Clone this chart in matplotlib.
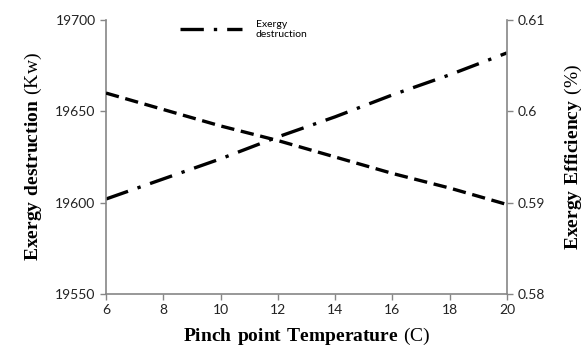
import matplotlib
matplotlib.use("Agg")
import matplotlib.pyplot as plt

# data
pinch_temp = [6, 8, 10, 12, 14, 16, 18, 20]
exergy_destruction = [19602, 19613, 19624, 19636, 19647, 19659, 19670, 19682]
exergy_efficiency = [0.6020, 0.6002, 0.5984, 0.5968, 0.5950, 0.5932, 0.5916, 0.5898]

x_ticks = [6, 8, 10, 12, 14, 16, 18, 20]
left_ticks = [19550, 19600, 19650, 19700]
right_ticks = [0.58, 0.59, 0.6, 0.61]
right_labels = ["0.58", "0.59", "0.6", "0.61"]

plt.rcParams['font.family'] = ['Lato', 'DejaVu Sans']
plt.rcParams['mathtext.fontset'] = 'custom'
plt.rcParams['mathtext.rm'] = 'Liberation Serif'
plt.rcParams['mathtext.bf'] = 'Liberation Serif:bold'

grey = '#868686'

fig = plt.figure(figsize=(5.87, 3.54), dpi=100)
ax = fig.add_axes([0.1806, 0.1695, 0.6831, 0.774])
ax2 = ax.twinx()

ax.plot(pinch_temp, exergy_destruction, color='black', lw=2.4,
        dashes=[7, 3, 1, 3], label='Exergy\ndestruction')
ax2.plot(pinch_temp, exergy_efficiency, color='black', lw=2.4,
         dashes=[4, 2])

ax.set_xlim(6, 20)
ax.set_ylim(19550, 19700)
ax2.set_ylim(0.58, 0.61)
ax.set_xticks(x_ticks)
ax.set_yticks(left_ticks)
ax2.set_yticks(right_ticks)
ax2.set_yticklabels(right_labels)

for a in (ax, ax2):
    a.spines['top'].set_visible(False)
    for s in ('left', 'right', 'bottom'):
        a.spines[s].set_color(grey)
        a.spines[s].set_linewidth(1.2)
    a.tick_params(colors=grey, labelcolor='#222222', labelsize=10,
                  length=4, width=1)
ax.spines['right'].set_visible(False)
ax2.spines['left'].set_visible(False)
ax2.spines['bottom'].set_visible(False)

ax.set_xlabel(r'$\mathbf{Pinch\ point\ Temperature}\ \mathrm{(C)}$', fontsize=14, labelpad=7)
ax.set_ylabel(r'$\mathbf{Exergy\ destruction}\ \mathrm{(Kw)}$', fontsize=14, labelpad=8)
ax2.set_ylabel(r'$\mathbf{Exergy\ Efficiency}\ \mathrm{(\%)}$', fontsize=14, labelpad=13)

ax.legend(loc='upper left', bbox_to_anchor=(0.16, 1.035), frameon=False,
          fontsize=7.5, handlelength=6, handletextpad=1.3)

fig.savefig('out.png', dpi=100)
